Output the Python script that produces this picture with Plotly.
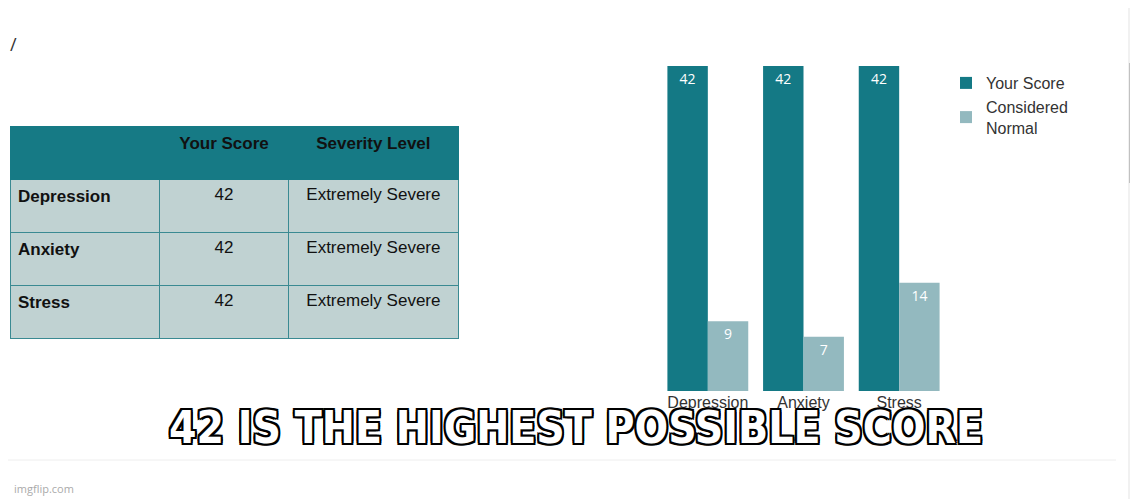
import plotly.graph_objects as go

categories = ["Depression", "Anxiety", "Stress"]
your_score = [42, 42, 42]
normal = [9, 7, 14]
severity = ["Extremely Severe", "Extremely Severe", "Extremely Severe"]
caption = "42 IS THE HIGHEST POSSIBLE SCORE"

W, H = 1138, 499
def px(x): return x / W
def py(y): return 1 - y / H

fig = go.Figure()
fig.add_trace(go.Table(
    domain=dict(x=[px(2), px(450)], y=[py(332), py(118)]),
    columnwidth=[150, 130, 170],
    header=dict(values=["", "<b>Your Score</b>", "<b>Severity Level</b>"],
                fill_color="#167a85", line_color="#167a85", height=53,
                font=dict(family="Arial, Liberation Sans", size=17, color="#111"),
                align=["left", "center", "center"]),
    cells=dict(values=[["<b>%s</b>" % c for c in categories], your_score, severity],
               fill_color="#c0d2d2", line_color="#3a8a92", height=53,
               font=dict(family="Arial, Liberation Sans", size=17, color="#111"),
               align=["left", "center", "center"]),
))
fig.add_trace(go.Bar(x=categories, y=your_score, name="Your Score",
                     marker=dict(color="#147985", line_width=0),
                     text=your_score, textposition="inside", insidetextanchor="end",
                     textfont=dict(color="white", size=14), cliponaxis=False))
fig.add_trace(go.Bar(x=categories, y=normal, name="Considered<br>Normal",
                     marker=dict(color="#93b9bf", line_width=0),
                     text=normal, textposition="inside", insidetextanchor="end",
                     textfont=dict(color="white", size=14)))

shapes = [
    dict(type="rect", xref="paper", yref="paper", x0=px(1120), x1=1, y0=0, y1=1,
         fillcolor="#f1f1f1", line_width=0, layer="below"),
    dict(type="rect", xref="paper", yref="paper", x0=px(1121), x1=px(1137), y0=py(175), y1=py(55),
         fillcolor="#c1c1c1", line_width=0),
    dict(type="line", xref="paper", yref="paper", x0=0, x1=px(1108), y0=py(452), y1=py(452),
         line=dict(color="#eeeeee", width=1)),
]
outline = "-2px -2px 0 #000, 2px -2px 0 #000, -2px 2px 0 #000, 2px 2px 0 #000, 0 2px 0 #000, 0 -2px 0 #000, 2px 0 0 #000, -2px 0 0 #000"
annotations = [
    dict(text=caption, xref="paper", yref="paper", x=px(568), y=py(447), showarrow=False,
         font=dict(family="Liberation Sans Narrow, DejaVu Sans Condensed", size=44, color="white",
                   weight="bold", shadow=outline)),
    dict(text="imgflip.com", xref="paper", yref="paper", x=px(4), y=py(490), xanchor="left",
         showarrow=False, font=dict(size=11, color="#aaa")),
    dict(text="/", xref="paper", yref="paper", x=0, y=py(22), xanchor="left",
         showarrow=False, font=dict(size=18, color="#333")),
]
fig.update_layout(
    width=W, height=H, margin=dict(l=0, r=0, t=0, b=0),
    paper_bgcolor="white", plot_bgcolor="white",
    barmode="group", bargap=0.155, bargroupgap=0,
    xaxis=dict(domain=[px(652), px(939)], showline=False, ticks="",
               tickfont=dict(size=16, color="#333", family="Arial, Liberation Sans")),
    yaxis=dict(domain=[py(383), py(58)], range=[0, 42], visible=False),
    legend=dict(x=px(938), y=py(58), xanchor="left", yanchor="top",
                font=dict(size=16, color="#333", family="Arial, Liberation Sans")),
    shapes=shapes, annotations=annotations,
)
fig.write_html("out.html")
